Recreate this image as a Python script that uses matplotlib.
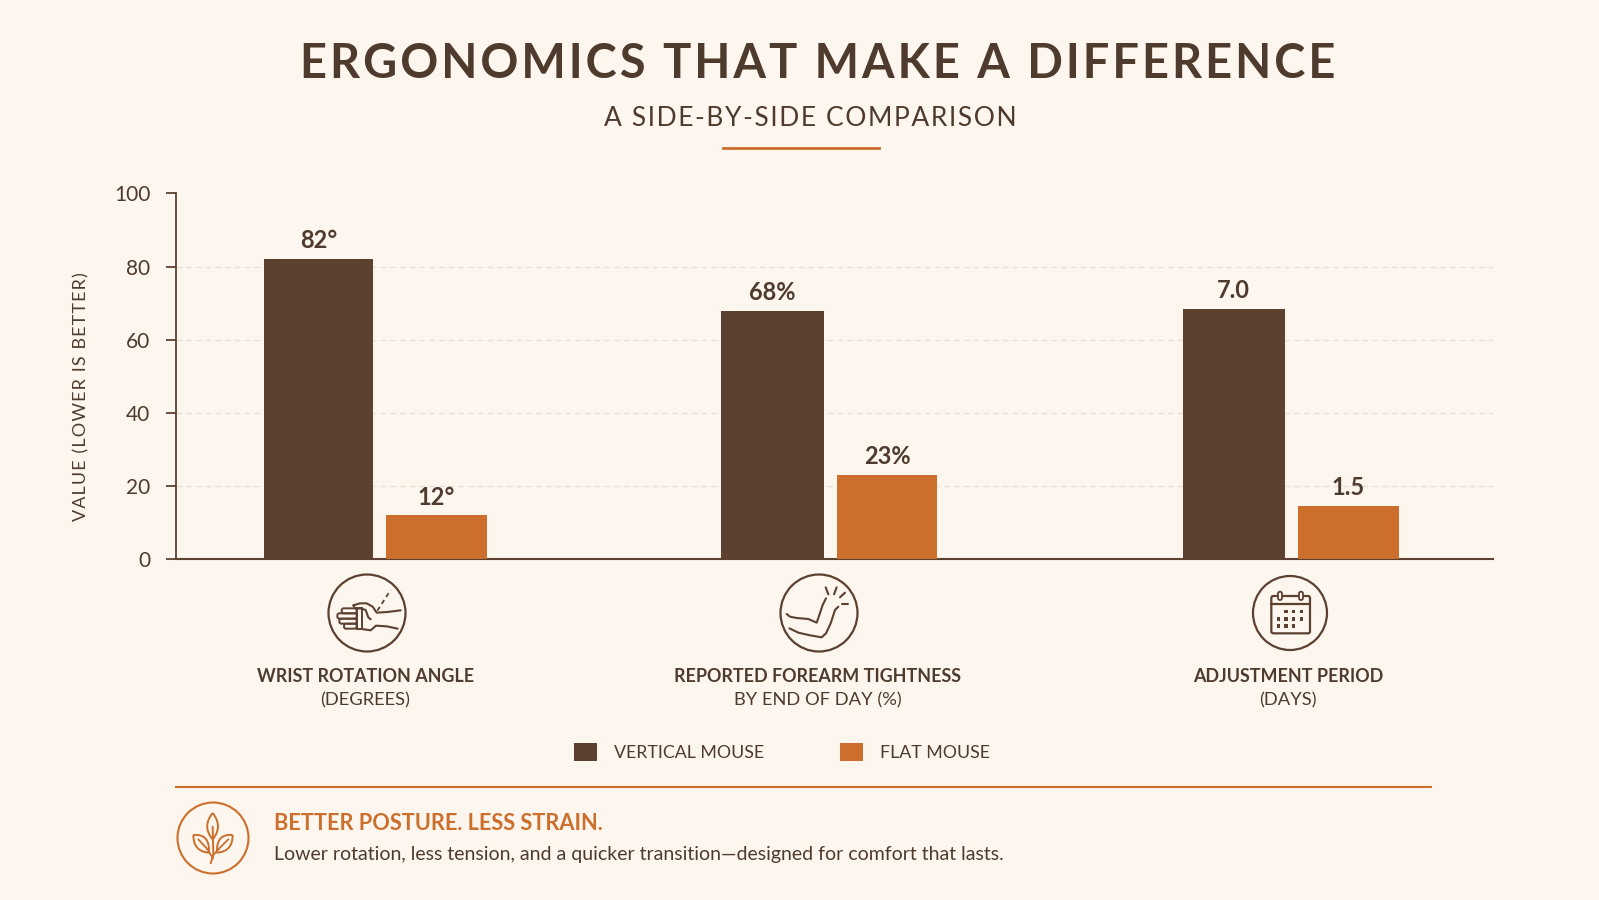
import matplotlib
matplotlib.use("Agg")
import matplotlib.pyplot as plt
from matplotlib.patches import Circle, FancyBboxPatch, PathPatch, Rectangle
from matplotlib.path import Path

W, H = 1599, 900
BG = "#FCF6EE"
BROWN = "#5C4130"
ORANGE = "#CC6F2C"
INK = "#4F3B2D"
GRID = "#E6E0D6"
HAIR = "\u200a"

plt.rcParams["font.family"] = ["Lato", "DejaVu Sans"]

metrics = ["WRIST ROTATION ANGLE", "REPORTED FOREARM TIGHTNESS", "ADJUSTMENT PERIOD"]
units = ["(DEGREES)", "BY END OF DAY (%)", "(DAYS)"]
vertical_mouse = [82, 68]
flat_mouse = [12, 23]
vertical_days = 7.0
flat_days = 1.5
vertical_labels = ["82°", "68%", "7.0"]
flat_labels = ["12°", "23%", "1.5"]
y_ticks = [0, 20, 40, 60, 80, 100]
grid_ticks = [20, 40, 60, 80]


def spaced(s, n=1):
    # matplotlib has no letter spacing, so pad with hair spaces
    return (HAIR * n).join(s)


def px_box(x0, y0, x1, y1):
    return [x0 / W, 1 - y1 / H, (x1 - x0) / W, (y1 - y0) / H]


def stroke(ax, pts, ox, oy, color=BROWN, lw=1.5, **kw):
    # points are in 1/3 pixel units relative to the icon's origin
    xs = [ox + p[0] / 3 for p in pts]
    ys = [oy + p[1] / 3 for p in pts]
    ax.plot(xs, ys, color=color, lw=lw, solid_capstyle="round", solid_joinstyle="round", **kw)


def leaf(ax, ox, oy, a, c1, c2, b, color=ORANGE, lw=1.4):
    verts = [a, c1, b, c2, a]
    verts = [(ox + v[0] / 3, oy + v[1] / 3) for v in verts]
    codes = [Path.MOVETO, Path.CURVE3, Path.CURVE3, Path.CURVE3, Path.CURVE3]
    ax.add_patch(PathPatch(Path(verts, codes), fc="none", ec=color, lw=lw, joinstyle="round"))


def wrist_icon(ax, cx, cy, r):
    ax.add_patch(Circle((cx, cy), r, fc="none", ec=BROWN, lw=1.6))
    ox, oy = 300, 560
    for y0, y1, x0 in [(145, 160, 125), (160, 176, 112), (176, 191, 118), (191, 206, 132)]:
        ax.add_patch(FancyBboxPatch((ox + x0 / 3, oy + y0 / 3), (170 - x0) / 3, (y1 - y0) / 3,
                                    boxstyle="round,pad=0,rounding_size=2", fc="none", ec=BROWN, lw=1.4))
    ax.add_patch(Rectangle((ox + 170 / 3, oy + 145 / 3), 15 / 3, 62 / 3, fc="none", ec=BROWN, lw=1.4))
    stroke(ax, [(160, 136), (180, 130), (200, 130), (218, 140), (230, 158), (262, 156), (302, 151)], ox, oy)
    stroke(ax, [(160, 136), (165, 145), (185, 146), (197, 150), (205, 172), (212, 178)], ox, oy)
    stroke(ax, [(185, 207), (212, 211), (228, 197), (260, 199), (293, 206)], ox, oy)
    stroke(ax, [(232, 152), (272, 90)], ox, oy, lw=1.3, linestyle=(0, (2.5, 2)))


def elbow_icon(ax, cx, cy, r):
    ax.add_patch(Circle((cx, cy), r, fc="none", ec=BROWN, lw=1.6))
    ox, oy = 740, 560
    stroke(ax, [(140, 162), (150, 170), (170, 174), (205, 177), (230, 188), (238, 165), (248, 135), (258, 115)], ox, oy)
    stroke(ax, [(148, 205), (175, 218), (210, 226), (245, 232), (258, 220), (272, 190), (285, 150), (295, 140)], ox, oy)
    stroke(ax, [(257, 82), (265, 103)], ox, oy)
    stroke(ax, [(290, 82), (282, 103)], ox, oy)
    stroke(ax, [(315, 98), (300, 112)], ox, oy)
    stroke(ax, [(325, 132), (305, 132)], ox, oy)


def calendar_icon(ax, cx, cy, r):
    ax.add_patch(Circle((cx, cy), r, fc="none", ec=BROWN, lw=1.6))
    ox, oy = 1200, 560
    ax.add_patch(FancyBboxPatch((ox + 214 / 3, oy + 108 / 3), 116 / 3, 112 / 3,
                                boxstyle="round,pad=0,rounding_size=2", fc="none", ec=BROWN, lw=1.6))
    stroke(ax, [(214, 133), (330, 133)], ox, oy, lw=1.6)
    for x in [240, 303]:
        ax.add_patch(FancyBboxPatch((ox + (x - 6) / 3, oy + 95 / 3), 12 / 3, 25 / 3,
                                    boxstyle="round,pad=0,rounding_size=2", fc=BG, ec=BROWN, lw=1.3))
    rows = [(155, [258, 281, 305]), (177, [235, 258, 281, 305]), (198, [235, 258, 281])]
    for y, xs in rows:
        for x in xs:
            ax.add_patch(Rectangle((ox + (x - 5) / 3, oy + (y - 5) / 3), 10 / 3, 10 / 3, fc=BROWN, ec="none"))


def plant_icon(ax, cx, cy, r):
    ax.add_patch(Circle((cx, cy), r, fc="none", ec=ORANGE, lw=1.5))
    ox, oy = 160, 780
    leaf(ax, ox, oy, (158, 99), (125, 140), (190, 140), (158, 178))
    leaf(ax, ox, oy, (100, 165), (100, 215), (150, 160), (147, 218))
    leaf(ax, ox, oy, (218, 165), (218, 215), (168, 160), (171, 218))
    stroke(ax, [(158, 140), (160, 225), (152, 250)], ox, oy, color=ORANGE, lw=1.4)
    stroke(ax, [(115, 178), (140, 205), (159, 235)], ox, oy, color=ORANGE, lw=1.3)
    stroke(ax, [(205, 178), (180, 203), (160, 225)], ox, oy, color=ORANGE, lw=1.3)


fig = plt.figure(figsize=(W / 100, H / 100), dpi=100, facecolor=BG)

# main chart
ax = fig.add_axes(px_box(176, 193.4, 1493, 559.4))
ax.set_facecolor("none")
ax.set_ylim(0, 100)
ax.set_xlim(-0.435, 2.44)

# third group is in days, it gets its own hidden scale
ax_days = ax.twinx()
ax_days.set_ylim(0, 10.22)
ax_days.axis("off")

positions = [0.009, 0.993, 2.0]
half_gap = 0.0142
v_widths = [0.238, 0.225, 0.223]
f_width = 0.22

v_bars = ax.bar([p - half_gap for p in positions[:2]], vertical_mouse, width=[-w for w in v_widths[:2]],
                align="edge", color=BROWN, zorder=3)
f_bars = ax.bar([p + half_gap for p in positions[:2]], flat_mouse, width=f_width,
                align="edge", color=ORANGE, zorder=3)
v_days = ax_days.bar(positions[2] - half_gap, vertical_days, width=-v_widths[2], align="edge", color=BROWN, zorder=3)
f_days = ax_days.bar(positions[2] + half_gap, flat_days, width=f_width, align="edge", color=ORANGE, zorder=3)

for bars, axis, labels in [(v_bars, ax, vertical_labels[:2]), (f_bars, ax, flat_labels[:2]),
                           (v_days, ax_days, vertical_labels[2:]), (f_days, ax_days, flat_labels[2:])]:
    axis.bar_label(bars, labels=labels, padding=5, fontsize=17, fontweight="bold", color=INK)

ax.set_yticks(y_ticks)
ax.tick_params(axis="y", length=7, width=1.3, color=BROWN, labelcolor=INK, labelsize=15, pad=11.5)
ax.set_xticks([])
for y in grid_ticks:
    ax.axhline(y, color=GRID, lw=1, ls=(0, (4, 3)), zorder=1)
for side in ["top", "right"]:
    ax.spines[side].set_visible(False)
ax.spines["left"].set_color(BROWN)
ax.spines["left"].set_linewidth(1.3)
ax.spines["bottom"].set_color(BROWN)
ax.spines["bottom"].set_linewidth(1.5)
ax.set_ylabel(spaced("VALUE (LOWER IS BETTER)"), fontsize=13, color=INK)
ax.yaxis.set_label_coords((89 - 176) / (1493 - 176), 0.445)

# overlay in pixel coordinates for everything around the chart
ov = fig.add_axes([0, 0, 1, 1], zorder=5)
ov.set_xlim(0, W)
ov.set_ylim(H, 0)
ov.axis("off")

ov.text(818, 64, spaced("ERGONOMICS THAT MAKE A DIFFERENCE"), ha="center", va="center",
        fontsize=33.8, fontweight="bold", color=INK)
ov.text(810, 118, spaced("A SIDE-BY-SIDE COMPARISON"), ha="center", va="center", fontsize=19, color=INK)
ov.plot([723, 879], [148, 148], color=ORANGE, lw=2)

wrist_icon(ov, 367, 613, 38.5)
elbow_icon(ov, 819, 613, 38.5)
calendar_icon(ov, 1290, 613, 37)

for name, unit, x in zip(metrics, units, [366, 818, 1288]):
    ov.text(x, 677, name, ha="center", va="center", fontsize=12.9, fontweight="bold", color=INK)
    ov.text(x - 0.5, 700, unit, ha="center", va="center", fontsize=13.2, color=INK)

fig.legend([v_bars[0], f_bars[0]], ["VERTICAL MOUSE", "FLAT MOUSE"], loc="center",
           bbox_to_anchor=(782 / W, 1 - 752 / H), ncols=2, frameon=False, labelcolor=INK,
           prop={"size": 12.8},
           handlelength=1.3, handleheight=1.24, handletextpad=0.96, columnspacing=4.25)

ov.plot([176, 1431], [787, 787], color=ORANGE, lw=1.5)
plant_icon(ov, 213, 838, 35.5)
ov.text(274.5, 824, "BETTER POSTURE. LESS STRAIN.", ha="left", va="center", fontsize=15.7, fontweight="bold", color=ORANGE)
ov.text(274.5, 854.5, "Lower rotation, less tension, and a quicker transition\u2014designed for comfort that lasts.",
        ha="left", va="center", fontsize=14, color=INK)

fig.savefig("out.png", dpi=100, facecolor=BG)
